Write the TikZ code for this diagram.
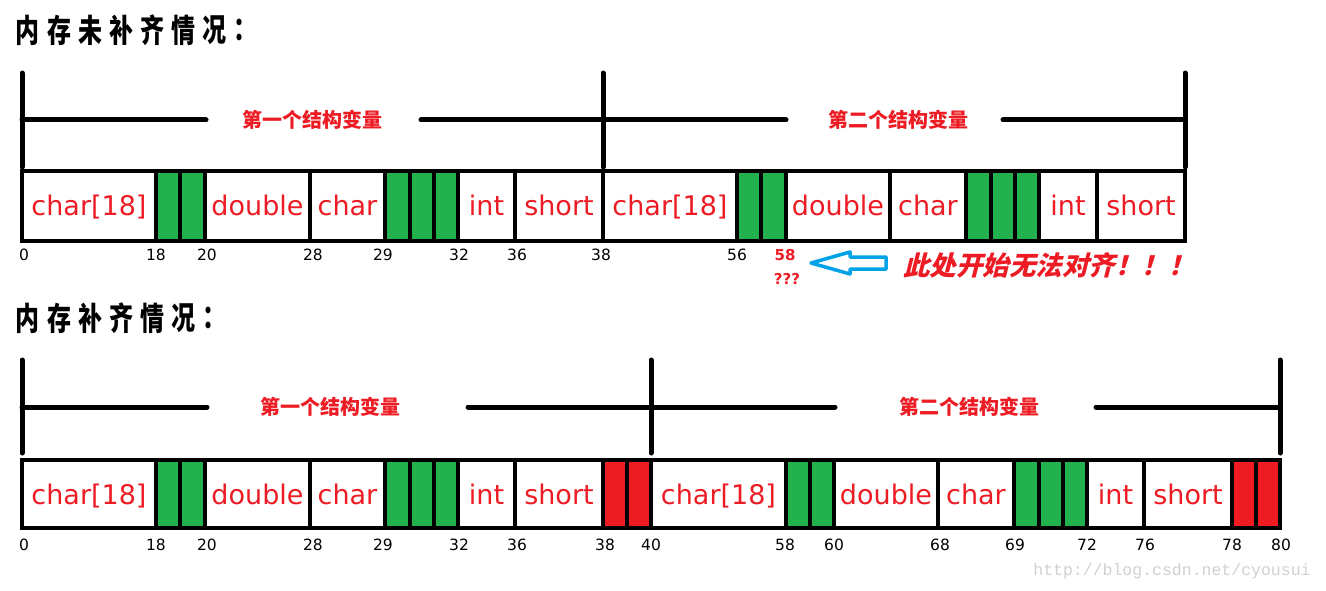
\documentclass[tikz,border=0pt]{standalone}
\usepackage{fontspec}
\setmainfont{DejaVu Sans}
\newfontfamily\cjk{Noto Sans CJK SC}
\newfontfamily\titlefont[FakeStretch=0.75]{Noto Sans CJK SC}
\newfontfamily\brushfont[FakeSlant=0.25]{Noto Sans CJK SC}
\newfontfamily\markfont{Liberation Mono}
\definecolor{padgreen}{HTML}{22B14C}
\definecolor{padred}{HTML}{ED1C24}
\definecolor{arrowblue}{HTML}{00A2E8}

\begin{document}
\begin{tikzpicture}[x=1pt,y=-1pt,
  cell/.style={draw=black,line width=3.3pt},
  celltext/.style={anchor=base,text=padred,font=\fontsize{27}{27}\selectfont},
  bytenum/.style={font=\fontsize{15.5}{15.5}\selectfont},
  badnum/.style={text=padred,font=\bfseries\fontsize{15}{15}\selectfont},
  brace/.style={line width=5pt,line cap=round},
  structname/.style={text=padred,font=\cjk\bfseries\fontsize{20}{20}\selectfont},
  title/.style={font=\titlefont\bfseries\fontsize{32}{32}\selectfont},
  brushtext/.style={text=padred,font=\brushfont\bfseries\fontsize{26.5}{26.5}\selectfont}]
\fill[white] (0,0) rectangle (1326,591);
\useasboundingbox (0,0) rectangle (1326,591);

% not padded
\foreach \c [count=\i] in {内,存,未,补,齐,情,况,：}
  \node[title] (ta\i) at ({28+31*(\i-1)},30) {\c};
\draw[brace] (22,73) -- (22,167) (603,73) -- (603,167) (1185,73) -- (1185,167);
\draw[brace] (22,120) -- (206,120) (421,120) -- (786,120) (1003,120) -- (1185,120);
\node[structname] (sa1) at (312,120) {第一个结构变量};
\node[structname] (sa2) at (898,120) {第二个结构变量};
\foreach \a/\b/\f/\t [count=\i] in {22/156/white/char[18], 156/180/padgreen/{}, 180/205/padgreen/{},
    205/310/white/double, 310/385/white/char, 385/410/padgreen/{}, 410/434/padgreen/{},
    434/458/padgreen/{}, 458/515/white/int, 515/603/white/short,
    603/737/white/char[18], 737/761/padgreen/{}, 761/786/padgreen/{},
    786/890/white/double, 890/966/white/char, 966/991/padgreen/{}, 991/1015/padgreen/{},
    1015/1039/padgreen/{}, 1039/1097/white/int, 1097/1185/white/short}
{
  \draw[cell,fill=\f] (\a,171) rectangle (\b,241);
  \node[celltext] (ca\i) at ({(\a+\b)/2},215) {\t};
}
\foreach \x/\n in {24/0, 156/18, 207/20, 313/28, 383/29, 459/32, 517/36, 601/38, 737/56}
  \node[bytenum] (na\n) at (\x,255) {\n};
\node[badnum] (na58) at (785,255) {58};
\node[badnum] (qq) at (787,279) {???};
\draw[arrowblue,line width=3.5pt,line join=round] (811,263) -- (850,252) -- (850,257) -- (886,257)
  -- (886,269) -- (850,269) -- (850,274) -- cycle;
\node[brushtext] (note) at (1049,265) {此处开始无法对齐！！！};

% padded
\foreach \c [count=\i] in {内,存,补,齐,情,况,：}
  \node[title] (tb\i) at ({28+31*(\i-1)},318) {\c};
\draw[brace] (22,360) -- (22,453) (651,360) -- (651,453) (1280,360) -- (1280,453);
\draw[brace] (22,407) -- (207,407) (468,407) -- (835,407) (1096,407) -- (1280,407);
\node[structname] (sb1) at (330,407) {第一个结构变量};
\node[structname] (sb2) at (969,407) {第二个结构变量};
\foreach \a/\b/\f/\t [count=\i] in {22/156/white/char[18], 156/180/padgreen/{}, 180/205/padgreen/{},
    205/310/white/double, 310/385/white/char, 385/410/padgreen/{}, 410/434/padgreen/{},
    434/458/padgreen/{}, 458/515/white/int, 515/603/white/short, 603/627/padred/{}, 627/651/padred/{},
    651/786/white/char[18], 786/810/padgreen/{}, 810/834/padgreen/{},
    834/938/white/double, 938/1014/white/char, 1014/1039/padgreen/{}, 1039/1063/padgreen/{},
    1063/1087/padgreen/{}, 1087/1144/white/int, 1144/1232/white/short, 1232/1256/padred/{}, 1256/1280/padred/{}}
{
  \draw[cell,fill=\f] (\a,460) rectangle (\b,528);
  \node[celltext] (cb\i) at ({(\a+\b)/2},504) {\t};
}
\foreach \x/\n in {24/0, 156/18, 207/20, 313/28, 383/29, 459/32, 517/36, 605/38, 651/40,
    785/58, 834/60, 940/68, 1015/69, 1087/72, 1145/76, 1232/78, 1281/80}
  \node[bytenum] (nb\n) at (\x,545) {\n};

\node[text=black!18,font=\markfont\fontsize{16.5}{16.5}\selectfont] (mark) at (1172,571) {http://blog.csdn.net/cyousui};
\end{tikzpicture}
\end{document}
